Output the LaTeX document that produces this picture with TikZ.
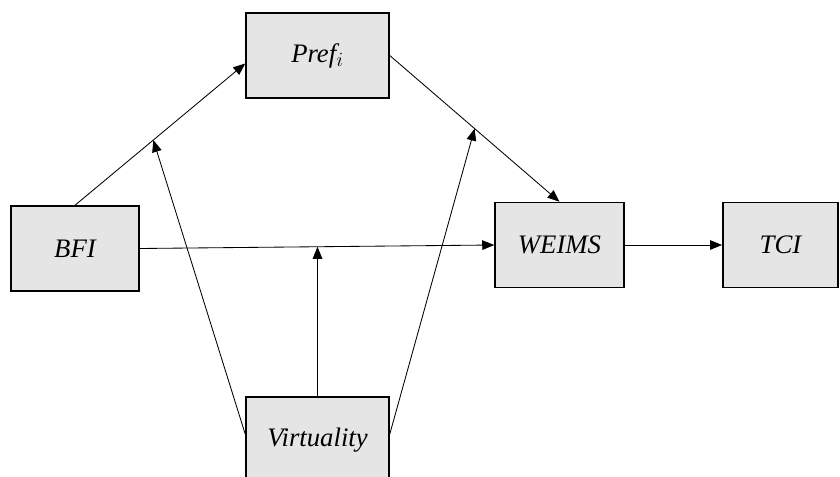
\documentclass[tikz,border=0pt]{standalone}
\usepackage{fontspec}
\setmainfont{Liberation Serif}
\usepackage{tikz}
\usetikzlibrary{arrows.meta}

\begin{document}
\begin{tikzpicture}[x=0.025cm, y=-0.025cm, font=\fontsize{19}{22}\selectfont\itshape,
VarBox/.style={draw, line width=1.2pt, fill=black!10, minimum height=2.12cm},
Link/.style={-{Triangle[length=0.3cm, width=0.24cm]}, line width=0.6pt}]
\useasboundingbox (0, 0) rectangle (840, 477);
\def\wideBox{3.57cm}
\node [VarBox, minimum width=\wideBox] (Pref) at (317.5, 55.5) {Pref$_i$};
\node [VarBox, minimum width=3.2cm] (BFI) at (75, 248.5) {BFI};
\node [VarBox, minimum width=3.22cm] (WEIMS) at (559.5, 245) {WEIMS};
\node [VarBox, minimum width=2.88cm] (TCI) at (780.5, 245) {TCI};
\node [VarBox, minimum width=\wideBox, minimum height=2.15cm] (Virtuality) at (317.5, 440) {Virtuality};
% main paths
\draw [Link] (BFI.north) -- ([yshift=-0.2cm]Pref.west) coordinate [pos=0.46] (onA);
\draw [Link] (Pref.east) -- (WEIMS.north) coordinate [pos=0.5] (onB);
\draw [Link] (BFI.east) -- (WEIMS.west) coordinate [pos=0.5] (onC);
\draw [Link] (WEIMS.east) -- (TCI.west);
% moderation
\draw [Link] ([yshift=-0.95cm]Virtuality.north west) -- (onA);
\draw [Link] (Virtuality.north) -- (Virtuality.north |- onC);
\draw [Link] ([yshift=-0.95cm]Virtuality.north east) -- (onB);
\end{tikzpicture}
\end{document}
